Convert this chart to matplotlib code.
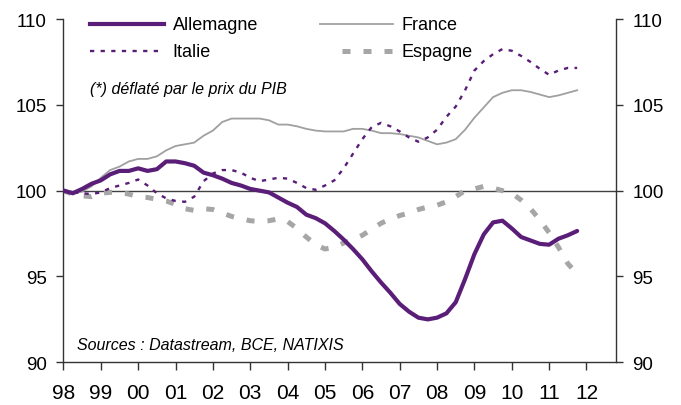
import matplotlib
matplotlib.use("Agg")
import matplotlib.pyplot as plt
import numpy as np

plt.rcParams['font.family'] = ['Liberation Sans', 'DejaVu Sans']

# Quarterly observations from 1998Q1
start_year = 1998.0
step = 0.25

allemagne = [100.0, 99.85, 100.1, 100.4, 100.6, 100.95, 101.15, 101.15, 101.3, 101.15,
             101.25, 101.7, 101.7, 101.6, 101.45, 101.05, 100.9, 100.7, 100.45, 100.3,
             100.1, 100.0, 99.9, 99.6, 99.3, 99.05, 98.6, 98.4, 98.1, 97.65,
             97.15, 96.6, 96.0, 95.3, 94.65, 94.05, 93.4, 92.95, 92.6, 92.5,
             92.6, 92.85, 93.5, 94.85, 96.3, 97.45, 98.15, 98.25, 97.8, 97.3,
             97.1, 96.9, 96.85, 97.2, 97.4, 97.65]

france = [100.0, 99.8, 99.95, 100.25, 100.75, 101.2, 101.4, 101.7, 101.85, 101.85,
          102.0, 102.35, 102.6, 102.7, 102.8, 103.2, 103.5, 104.0, 104.2, 104.2,
          104.2, 104.2, 104.1, 103.85, 103.85, 103.75, 103.6, 103.5, 103.45, 103.45,
          103.45, 103.6, 103.6, 103.5, 103.35, 103.35, 103.3, 103.2, 103.1, 102.9,
          102.7, 102.8, 103.0, 103.55, 104.25, 104.85, 105.45, 105.7, 105.85, 105.85,
          105.75, 105.6, 105.45, 105.55, 105.7, 105.85]

italie = [100.0, 99.9, 99.85, 99.8, 99.9, 100.15, 100.3, 100.45, 100.65, 100.3,
          99.85, 99.55, 99.4, 99.35, 99.65, 100.55, 101.0, 101.2, 101.2, 101.05,
          100.75, 100.55, 100.65, 100.75, 100.7, 100.45, 100.15, 100.05, 100.3, 100.6,
          101.3, 102.15, 103.0, 103.7, 103.95, 103.75, 103.45, 103.1, 102.85, 103.1,
          103.55, 104.3, 104.9, 105.85, 107.0, 107.55, 107.95, 108.25, 108.15, 107.85,
          107.5, 107.1, 106.75, 107.0, 107.15, 107.15]

espagne = [100.0, 99.8, 99.7, 99.65, 99.85, 99.9, 99.9, 99.8, 99.65, 99.6,
           99.5, 99.4, 99.2, 98.95, 98.85, 98.95, 98.9, 98.7, 98.5, 98.35,
           98.25, 98.2, 98.25, 98.35, 98.2, 97.8, 97.3, 96.85, 96.6, 96.7,
           96.95, 97.15, 97.4, 97.75, 98.1, 98.35, 98.55, 98.7, 98.9, 99.05,
           99.15, 99.35, 99.65, 100.0, 100.1, 100.25, 100.15, 100.0, 99.85, 99.45,
           98.95, 98.3, 97.55, 96.7, 95.75, 95.15]

year_ticks = list(range(1998, 2013))
year_labels = ['98', '99', '00', '01', '02', '03', '04', '05', '06', '07',
               '08', '09', '10', '11', '12']
y_ticks = [90, 95, 100, 105, 110]

purple = '#5a1e78'
gray_fr = '#a0a0a0'
gray_es = '#a6a6a6'

x = start_year + step * np.arange(len(allemagne))

fig = plt.figure(figsize=(6.81, 4.06), dpi=100)
ax = fig.add_axes([0.0932, 0.1052, 0.904 - 0.0932, 0.9507 - 0.1052])

ax.axhline(100, color='#404040', lw=1.0, zorder=1)

ax.plot(x, espagne, color=gray_es, lw=3.6, dashes=(1.6, 2.6), zorder=2)
ax.plot(x, france, color=gray_fr, lw=1.3, zorder=3)
ax.plot(x, italie, color=purple, lw=1.7, dashes=(1.8, 2.7), zorder=4)
ax.plot(x, allemagne, color=purple, lw=3.0, zorder=5, solid_capstyle='round')

ax.set_xlim(1998, 2012.78)
ax.set_ylim(90, 110)
ax.set_xticks(year_ticks)
ax.set_xticklabels(year_labels)
ax.set_yticks(y_ticks)
ax.set_yticklabels([str(v) for v in y_ticks])

ax.spines['top'].set_visible(False)
for s in ['left', 'right', 'bottom']:
    ax.spines[s].set_color('#333333')
    ax.spines[s].set_linewidth(1.0)

ax.tick_params(axis='y', which='both', direction='out', length=5, width=1,
               color='#333333', labelsize=13.5, left=True, right=True,
               labelleft=True, labelright=True, pad=7)
ax.tick_params(axis='x', direction='out', length=6, width=1, color='#333333',
               labelsize=15, pad=9)

# Legend drawn manually in axes-fraction coordinates
def legend_entry(x0, x1, y, text, **kw):
    ax.plot([x0, x1], [y, y], transform=ax.transAxes, clip_on=False, **kw)
    ax.text(x1 + 0.016, y, text, transform=ax.transAxes, fontsize=13,
            va='center', ha='left', color='black')

def fx(px):
    return (px - 63.5) / (615.7 - 63.5)

def fy(py):
    return (363.3 - py) / (363.3 - 20.0)

legend_entry(fx(90), fx(164), fy(25), 'Allemagne', color=purple, lw=3.0)
legend_entry(fx(90), fx(164), fy(52), 'Italie', color=purple, lw=1.7, dashes=(1.8, 2.7))
legend_entry(fx(320), fx(393), fy(25), 'France', color=gray_fr, lw=1.3)
legend_entry(fx(342), fx(393), fy(52), 'Espagne', color=gray_es, lw=3.6, dashes=(1.6, 2.6))

ax.text(fx(90), fy(89), "(*) déflaté par le prix du PIB", transform=ax.transAxes,
        fontsize=11.5, style='italic', va='center', ha='left')
ax.text(fx(77), fy(346), "Sources : Datastream, BCE, NATIXIS", transform=ax.transAxes,
        fontsize=11.5, style='italic', va='center', ha='left')

fig.savefig('out.png', dpi=100)
